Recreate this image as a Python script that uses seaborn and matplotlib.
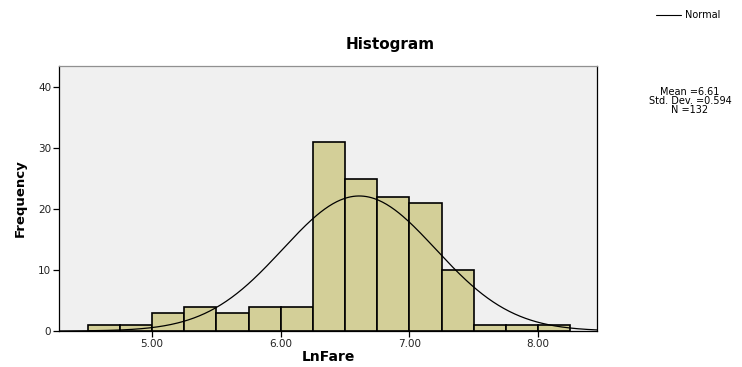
import numpy as np
import pandas as pd
import matplotlib
matplotlib.use("Agg")
import matplotlib.pyplot as plt
import seaborn as sns

# Data (LnFare)
bin_edges = [4.50, 4.75, 5.00, 5.25, 5.50, 5.75, 6.00, 6.25, 6.50, 6.75,
             7.00, 7.25, 7.50, 7.75, 8.00, 8.25]
counts = [1, 1, 3, 4, 3, 4, 4, 31, 25, 22, 21, 10, 1, 1, 1]
mean_val = 6.61
std_val = 0.594
n_val = 132
x_ticks = [5.0, 6.0, 7.0, 8.0]
x_tick_labels = ["5.00", "6.00", "7.00", "8.00"]
y_ticks = [0, 10, 20, 30, 40]

sns.set_style("white")
plt.rcParams['font.family'] = ['DejaVu Sans']
plt.rcParams['text.color'] = 'black'
plt.rcParams['axes.labelcolor'] = 'black'

centers = [(a + b) / 2 for a, b in zip(bin_edges[:-1], bin_edges[1:])]
df = pd.DataFrame({"LnFare": centers, "count": counts})

fig = plt.figure(figsize=(7.42, 3.67), dpi=100)
ax = fig.add_axes([59/742, 1 - 331/367, (597 - 59)/742, (331 - 66)/367])
ax.set_facecolor("#f0f0f0")

sns.histplot(data=df, x="LnFare", weights="count", bins=bin_edges,
             color="#d3cf98", edgecolor="black", linewidth=1.2, alpha=1,
             ax=ax)

# Fitted normal curve
xmin, xmax = 4.277, 8.458
bw = bin_edges[1] - bin_edges[0]
xs = np.linspace(xmin, xmax, 400)
ys = n_val * bw / (std_val * np.sqrt(2 * np.pi)) * np.exp(-0.5 * ((xs - mean_val) / std_val) ** 2)
sns.lineplot(x=xs, y=ys, color="black", linewidth=0.9, ax=ax)

ax.set_xlim(xmin, xmax)
ax.set_ylim(0, 43.5)
ax.set_xticks(x_ticks)
ax.set_xticklabels(x_tick_labels)
ax.set_yticks(y_ticks)
ax.tick_params(axis="both", which="major", bottom=True, left=True,
               direction="out", length=4, width=0.9,
               labelsize=7.5, color="black", labelcolor="#222222", pad=1.5)
for side in ["left", "bottom", "right"]:
    ax.spines[side].set_color("black")
    ax.spines[side].set_linewidth(0.9)
ax.spines["top"].set_color("#909090")
ax.spines["top"].set_linewidth(0.9)

ax.set_xlabel("LnFare", fontsize=10, fontweight="bold", labelpad=1, color="black")
ax.set_ylabel("Frequency", fontsize=9.5, fontweight="bold", labelpad=8, color="black")

fig.text(390/742, 1 - 44/367, "Histogram", ha="center", va="center",
         fontsize=11, fontweight="bold", color="black")

# Legend-like elements
fig.add_artist(matplotlib.lines.Line2D([656/742, 681/742], [1 - 15/367, 1 - 15/367],
                                       color="black", linewidth=0.8))
fig.text(685/742, 1 - 15/367, "Normal", ha="left", va="center", fontsize=7,
         color="black")
fig.text(690/742, 1 - 101/367,
         f"Mean ={mean_val:.2f}\nStd. Dev. ={std_val:.3f}\nN ={n_val}",
         ha="center", va="center", fontsize=7, linespacing=0.9, color="black")

fig.savefig("out.png", dpi=100)
